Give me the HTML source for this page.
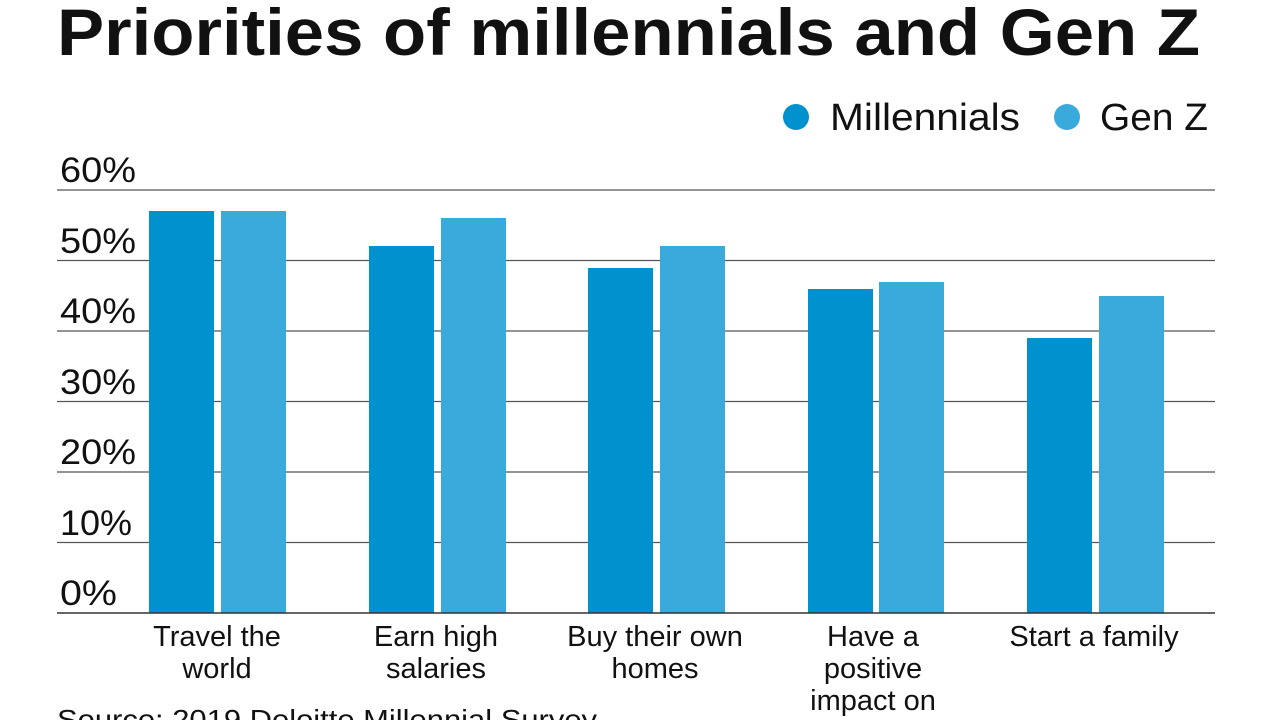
<!DOCTYPE html>
<html><head><meta charset="utf-8"><style>
html,body{margin:0;padding:0;background:#fff;width:1280px;height:720px;overflow:hidden}
svg{display:block}
text{font-family:"Liberation Sans",sans-serif;fill:#111}
</style></head><body>
<svg width="1280" height="720" viewBox="0 0 1280 720">
<text x="57" y="55" font-size="66" font-weight="bold" textLength="1143" lengthAdjust="spacingAndGlyphs">Priorities of millennials and Gen Z</text>
<circle cx="796" cy="117" r="13" fill="#0091cf"/>
<text x="830" y="130" font-size="38" textLength="190" lengthAdjust="spacingAndGlyphs">Millennials</text>
<circle cx="1067" cy="117" r="13" fill="#3aa9dc"/>
<text x="1100" y="130" font-size="38" textLength="108" lengthAdjust="spacingAndGlyphs">Gen Z</text>
<g stroke="#555" stroke-width="1.3">
<line x1="57" x2="1215" y1="190" y2="190"/><line x1="57" x2="1215" y1="260.5" y2="260.5"/>
<line x1="57" x2="1215" y1="331" y2="331"/><line x1="57" x2="1215" y1="401.5" y2="401.5"/>
<line x1="57" x2="1215" y1="472" y2="472"/><line x1="57" x2="1215" y1="542.5" y2="542.5"/>
</g>
<g font-size="35">
<text x="60" y="182" textLength="76" lengthAdjust="spacingAndGlyphs">60%</text>
<text x="60" y="253" textLength="76" lengthAdjust="spacingAndGlyphs">50%</text>
<text x="60" y="323" textLength="76" lengthAdjust="spacingAndGlyphs">40%</text>
<text x="60" y="394" textLength="76" lengthAdjust="spacingAndGlyphs">30%</text>
<text x="60" y="464" textLength="76" lengthAdjust="spacingAndGlyphs">20%</text>
<text x="60" y="535" textLength="72" lengthAdjust="spacingAndGlyphs">10%</text>
<text x="60" y="605" textLength="57" lengthAdjust="spacingAndGlyphs">0%</text>
</g>
<g fill="#0091cf">
<rect x="149" y="211" width="65" height="402"/><rect x="369" y="246" width="65" height="367"/>
<rect x="588" y="268" width="65" height="345"/><rect x="808" y="289" width="65" height="324"/>
<rect x="1027" y="338" width="65" height="275"/>
</g>
<g fill="#3aa9dc">
<rect x="221" y="211" width="65" height="402"/><rect x="441" y="218" width="65" height="395"/>
<rect x="660" y="246" width="65" height="367"/><rect x="879" y="282" width="65" height="331"/>
<rect x="1099" y="296" width="65" height="317"/>
</g>
<line x1="57" x2="1215" y1="613" y2="613" stroke="#333" stroke-width="1.5"/>
<g font-size="29" text-anchor="middle">
<text x="217" y="646">Travel the</text><text x="217" y="678">world</text>
<text x="436" y="646">Earn high</text><text x="436" y="678">salaries</text>
<text x="655" y="646">Buy their own</text><text x="655" y="678">homes</text>
<text x="873" y="646">Have a</text><text x="873" y="678">positive</text><text x="873" y="710">impact on</text>
<text x="1094" y="646">Start a family</text>
</g>
<text x="57" y="729" font-size="28" textLength="540" lengthAdjust="spacingAndGlyphs">Source: 2019 Deloitte Millennial Survey</text>
</svg>
</body></html>
